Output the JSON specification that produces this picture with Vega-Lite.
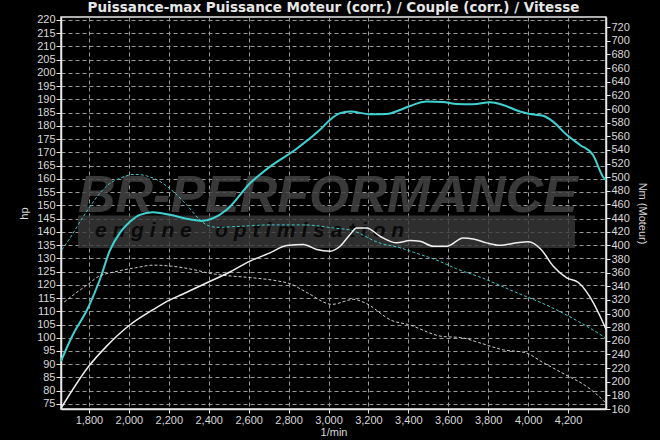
{
  "$schema": "https://vega.github.io/schema/vega-lite/v6.json",
  "width": 545,
  "height": 392,
  "autosize": {"type": "none"},
  "padding": {"left": 61, "top": 17, "right": 54, "bottom": 31},
  "background": "#000000",
  "title": {
    "text": "Puissance-max Puissance Moteur (corr.) / Couple (corr.) / Vitesse",
    "font": "DejaVu Sans",
    "fontSize": 13.5,
    "fontWeight": "bold",
    "color": "#e6e6e6",
    "offset": -0.5,
    "anchor": "middle"
  },
  "config": {
    "view": {"stroke": "#e8e8e8", "strokeWidth": 1.5},
    "axis": {
      "labelFont": "Liberation Sans",
      "labelFontSize": 11,
      "labelColor": "#d9d9d9",
      "labelOverlap": false,
      "titleFont": "Liberation Sans",
      "titleFontSize": 11,
      "titleFontWeight": "normal",
      "titleColor": "#d9d9d9",
      "domainColor": "#e8e8e8",
      "domainWidth": 1.5,
      "tickColor": "#e8e8e8",
      "gridColor": "#999999",
      "gridDash": [4, 3],
      "gridWidth": 1
    }
  },
  "datasets": {
    "power": [
      {"rpm": 1660, "hp": 91.2, "series": "tuned"},
      {"rpm": 1712, "hp": 100, "series": "tuned"},
      {"rpm": 1800, "hp": 112, "series": "tuned"},
      {"rpm": 1855, "hp": 122, "series": "tuned"},
      {"rpm": 1905, "hp": 133, "series": "tuned"},
      {"rpm": 1955, "hp": 139.6, "series": "tuned"},
      {"rpm": 2005, "hp": 143.8, "series": "tuned"},
      {"rpm": 2055, "hp": 146.4, "series": "tuned"},
      {"rpm": 2120, "hp": 147.4, "series": "tuned"},
      {"rpm": 2205, "hp": 146.4, "series": "tuned"},
      {"rpm": 2305, "hp": 144.7, "series": "tuned"},
      {"rpm": 2365, "hp": 144.1, "series": "tuned"},
      {"rpm": 2422, "hp": 145.1, "series": "tuned"},
      {"rpm": 2490, "hp": 148.3, "series": "tuned"},
      {"rpm": 2607, "hp": 158.3, "series": "tuned"},
      {"rpm": 2707, "hp": 164.6, "series": "tuned"},
      {"rpm": 2832, "hp": 170.9, "series": "tuned"},
      {"rpm": 2957, "hp": 178.5, "series": "tuned"},
      {"rpm": 3008, "hp": 182.3, "series": "tuned"},
      {"rpm": 3058, "hp": 184.8, "series": "tuned"},
      {"rpm": 3108, "hp": 185.4, "series": "tuned"},
      {"rpm": 3208, "hp": 184.4, "series": "tuned"},
      {"rpm": 3292, "hp": 184.5, "series": "tuned"},
      {"rpm": 3358, "hp": 186, "series": "tuned"},
      {"rpm": 3408, "hp": 187.5, "series": "tuned"},
      {"rpm": 3492, "hp": 189.2, "series": "tuned"},
      {"rpm": 3574, "hp": 189, "series": "tuned"},
      {"rpm": 3642, "hp": 188.3, "series": "tuned"},
      {"rpm": 3724, "hp": 188.2, "series": "tuned"},
      {"rpm": 3809, "hp": 188.9, "series": "tuned"},
      {"rpm": 3874, "hp": 187.9, "series": "tuned"},
      {"rpm": 3959, "hp": 185.4, "series": "tuned"},
      {"rpm": 4009, "hp": 184.5, "series": "tuned"},
      {"rpm": 4075, "hp": 183.8, "series": "tuned"},
      {"rpm": 4125, "hp": 181.6, "series": "tuned"},
      {"rpm": 4193, "hp": 176.6, "series": "tuned"},
      {"rpm": 4260, "hp": 172.8, "series": "tuned"},
      {"rpm": 4325, "hp": 169, "series": "tuned"},
      {"rpm": 4375, "hp": 160.8, "series": "tuned"},
      {"rpm": 4390, "hp": 159.5, "series": "tuned"},
      {"rpm": 1664, "hp": 133.2, "series": "stock"},
      {"rpm": 1705, "hp": 137.6, "series": "stock"},
      {"rpm": 1755, "hp": 143.8, "series": "stock"},
      {"rpm": 1805, "hp": 149.5, "series": "stock"},
      {"rpm": 1855, "hp": 154.6, "series": "stock"},
      {"rpm": 1905, "hp": 158.3, "series": "stock"},
      {"rpm": 1955, "hp": 160.2, "series": "stock"},
      {"rpm": 2030, "hp": 161.7, "series": "stock"},
      {"rpm": 2089, "hp": 161.1, "series": "stock"},
      {"rpm": 2156, "hp": 159, "series": "stock"},
      {"rpm": 2222, "hp": 155.2, "series": "stock"},
      {"rpm": 2289, "hp": 150.2, "series": "stock"},
      {"rpm": 2356, "hp": 144.5, "series": "stock"},
      {"rpm": 2390, "hp": 142.6, "series": "stock"},
      {"rpm": 2440, "hp": 141.7, "series": "stock"},
      {"rpm": 2540, "hp": 142, "series": "stock"},
      {"rpm": 2707, "hp": 142.6, "series": "stock"},
      {"rpm": 2874, "hp": 142.6, "series": "stock"},
      {"rpm": 3041, "hp": 141.3, "series": "stock"},
      {"rpm": 3108, "hp": 140.7, "series": "stock"},
      {"rpm": 3259, "hp": 135.7, "series": "stock"},
      {"rpm": 3358, "hp": 134, "series": "stock"},
      {"rpm": 3425, "hp": 132.3, "series": "stock"},
      {"rpm": 3559, "hp": 128.8, "series": "stock"},
      {"rpm": 3642, "hp": 126, "series": "stock"},
      {"rpm": 3752, "hp": 123.1, "series": "stock"},
      {"rpm": 3931, "hp": 117.4, "series": "stock"},
      {"rpm": 4110, "hp": 111.7, "series": "stock"},
      {"rpm": 4253, "hp": 106.1, "series": "stock"},
      {"rpm": 4378, "hp": 100.4, "series": "stock"},
      {"rpm": 4390, "hp": 99.8, "series": "stock"}
    ],
    "torque": [
      {"rpm": 1660, "nm": 161, "series": "tuned"},
      {"rpm": 1800, "nm": 223, "series": "tuned"},
      {"rpm": 1890, "nm": 252.6, "series": "tuned"},
      {"rpm": 1998, "nm": 281.8, "series": "tuned"},
      {"rpm": 2124, "nm": 306.2, "series": "tuned"},
      {"rpm": 2206, "nm": 320, "series": "tuned"},
      {"rpm": 2266, "nm": 328, "series": "tuned"},
      {"rpm": 2391, "nm": 345.2, "series": "tuned"},
      {"rpm": 2499, "nm": 359.9, "series": "tuned"},
      {"rpm": 2607, "nm": 377, "series": "tuned"},
      {"rpm": 2707, "nm": 389, "series": "tuned"},
      {"rpm": 2791, "nm": 399.8, "series": "tuned"},
      {"rpm": 2874, "nm": 401.2, "series": "tuned"},
      {"rpm": 2941, "nm": 393.9, "series": "tuned"},
      {"rpm": 3008, "nm": 391.4, "series": "tuned"},
      {"rpm": 3058, "nm": 398.7, "series": "tuned"},
      {"rpm": 3108, "nm": 416, "series": "tuned"},
      {"rpm": 3141, "nm": 425.6, "series": "tuned"},
      {"rpm": 3191, "nm": 425.6, "series": "tuned"},
      {"rpm": 3258, "nm": 413.4, "series": "tuned"},
      {"rpm": 3342, "nm": 403.7, "series": "tuned"},
      {"rpm": 3408, "nm": 407, "series": "tuned"},
      {"rpm": 3458, "nm": 406, "series": "tuned"},
      {"rpm": 3525, "nm": 398.7, "series": "tuned"},
      {"rpm": 3592, "nm": 398.7, "series": "tuned"},
      {"rpm": 3675, "nm": 411, "series": "tuned"},
      {"rpm": 3725, "nm": 409.5, "series": "tuned"},
      {"rpm": 3792, "nm": 403.7, "series": "tuned"},
      {"rpm": 3859, "nm": 400.2, "series": "tuned"},
      {"rpm": 3942, "nm": 403.7, "series": "tuned"},
      {"rpm": 4001, "nm": 405.2, "series": "tuned"},
      {"rpm": 4065, "nm": 393.9, "series": "tuned"},
      {"rpm": 4126, "nm": 369.5, "series": "tuned"},
      {"rpm": 4193, "nm": 352.5, "series": "tuned"},
      {"rpm": 4253, "nm": 345.2, "series": "tuned"},
      {"rpm": 4307, "nm": 325.6, "series": "tuned"},
      {"rpm": 4360, "nm": 296.4, "series": "tuned"},
      {"rpm": 4390, "nm": 277, "series": "tuned"},
      {"rpm": 1676, "nm": 317, "series": "stock"},
      {"rpm": 1748, "nm": 333, "series": "stock"},
      {"rpm": 1805, "nm": 345, "series": "stock"},
      {"rpm": 1837, "nm": 352.5, "series": "stock"},
      {"rpm": 1945, "nm": 362.2, "series": "stock"},
      {"rpm": 2034, "nm": 367.2, "series": "stock"},
      {"rpm": 2124, "nm": 371, "series": "stock"},
      {"rpm": 2213, "nm": 369.5, "series": "stock"},
      {"rpm": 2320, "nm": 364.7, "series": "stock"},
      {"rpm": 2410, "nm": 358.8, "series": "stock"},
      {"rpm": 2481, "nm": 355.9, "series": "stock"},
      {"rpm": 2607, "nm": 352.8, "series": "stock"},
      {"rpm": 2750, "nm": 347.6, "series": "stock"},
      {"rpm": 2804, "nm": 344.2, "series": "stock"},
      {"rpm": 2893, "nm": 330.6, "series": "stock"},
      {"rpm": 3018, "nm": 313.5, "series": "stock"},
      {"rpm": 3126, "nm": 320.8, "series": "stock"},
      {"rpm": 3180, "nm": 316, "series": "stock"},
      {"rpm": 3323, "nm": 289.1, "series": "stock"},
      {"rpm": 3394, "nm": 284.3, "series": "stock"},
      {"rpm": 3573, "nm": 266.3, "series": "stock"},
      {"rpm": 3662, "nm": 264.8, "series": "stock"},
      {"rpm": 3752, "nm": 257.5, "series": "stock"},
      {"rpm": 3877, "nm": 246.7, "series": "stock"},
      {"rpm": 3984, "nm": 242.8, "series": "stock"},
      {"rpm": 4074, "nm": 228.3, "series": "stock"},
      {"rpm": 4181, "nm": 211.2, "series": "stock"},
      {"rpm": 4288, "nm": 194, "series": "stock"},
      {"rpm": 4378, "nm": 172.1, "series": "stock"},
      {"rpm": 4385, "nm": 170, "series": "stock"}
    ]
  },
  "layer": [
    {
      "layer": [
        {
          "data": {"values": [{}]},
          "mark": {"type": "rect", "color": "#3a3a3a", "opacity": 0.8},
          "encoding": {
            "x": {"datum": 1745, "type": "quantitative"},
            "x2": {"datum": 4235},
            "y": {"datum": 146.2, "type": "quantitative"},
            "y2": {"datum": 133.9}
          }
        },
        {
          "data": {"values": [{}]},
          "mark": {"type": "text", "text": "BR-PERFORMANCE", "font": "Liberation Sans", "fontSize": 52, "fontWeight": "bold", "fontStyle": "italic", "align": "left", "baseline": "alphabetic", "color": "#444444", "opacity": 0.85},
          "encoding": {
            "x": {"datum": 1745, "type": "quantitative"},
            "y": {"datum": 147.4, "type": "quantitative"}
          }
        },
        {
          "data": {"values": [{}]},
          "mark": {"type": "text", "text": "e n g i n e \u00a0 \u00a0o p t i m i s a t i o n", "font": "Liberation Sans", "fontSize": 21, "fontWeight": "bold", "fontStyle": "italic", "align": "left", "baseline": "alphabetic", "color": "#0a0a0a"},
          "encoding": {
            "x": {"datum": 1830, "type": "quantitative"},
            "y": {"datum": 138.1, "type": "quantitative"}
          }
        },
        {
          "data": {"name": "power"},
          "transform": [{"filter": "datum.series === 'stock'"}],
          "mark": {"type": "line", "color": "#3fc9c9", "strokeWidth": 1, "strokeDash": [3, 2], "interpolate": "monotone"},
          "encoding": {
            "x": {"field": "rpm", "type": "quantitative", "scale": {"domain": [1660, 4390], "nice": false, "zero": false}, "axis": {"values": [1800, 2000, 2200, 2400, 2600, 2800, 3000, 3200, 3400, 3600, 3800, 4000, 4200], "tickCount": 40, "format": ",d", "title": "1/min", "tickSize": 4, "labelPadding": 1, "titlePadding": 1, "grid": true}},
            "y": {"field": "hp", "type": "quantitative", "scale": {"domain": [73.1, 221.1], "nice": false, "zero": false}, "axis": {"values": [75, 80, 85, 90, 95, 100, 105, 110, 115, 120, 125, 130, 135, 140, 145, 150, 155, 160, 165, 170, 175, 180, 185, 190, 195, 200, 205, 210, 215, 220], "tickCount": 60, "title": "hp", "tickSize": 5, "labelPadding": 1, "titlePadding": 7, "grid": true, "orient": "left", "labelOverlap": false}}
          }
        },
        {
          "data": {"name": "power"},
          "transform": [{"filter": "datum.series === 'tuned'"}],
          "mark": {"type": "line", "color": "#3fd2d2", "strokeWidth": 2, "interpolate": "monotone"},
          "encoding": {
            "x": {"field": "rpm", "type": "quantitative"},
            "y": {"field": "hp", "type": "quantitative"}
          }
        }
      ]
    },
    {
      "data": {"name": "torque"},
      "layer": [
        {
          "transform": [{"filter": "datum.series === 'stock'"}],
          "mark": {"type": "line", "color": "#cfcfcf", "strokeWidth": 1, "strokeDash": [3, 2], "interpolate": "monotone"},
          "encoding": {
            "x": {"field": "rpm", "type": "quantitative"},
            "y": {"field": "nm", "type": "quantitative", "scale": {"domain": [160, 735], "nice": false, "zero": false}, "axis": {"values": [160, 180, 200, 220, 240, 260, 280, 300, 320, 340, 360, 380, 400, 420, 440, 460, 480, 500, 520, 540, 560, 580, 600, 620, 640, 660, 680, 700, 720], "tickCount": 60, "title": "Nm (Moteur)", "orient": "right", "tickSize": 4, "labelPadding": 1, "titlePadding": 7, "grid": false, "labelOverlap": false}}
          }
        },
        {
          "transform": [{"filter": "datum.series === 'tuned'"}],
          "mark": {"type": "line", "color": "#f0f0f0", "strokeWidth": 1.5, "interpolate": "monotone"},
          "encoding": {
            "x": {"field": "rpm", "type": "quantitative"},
            "y": {"field": "nm", "type": "quantitative"}
          }
        }
      ]
    }
  ],
  "resolve": {"scale": {"y": "independent"}}
}
